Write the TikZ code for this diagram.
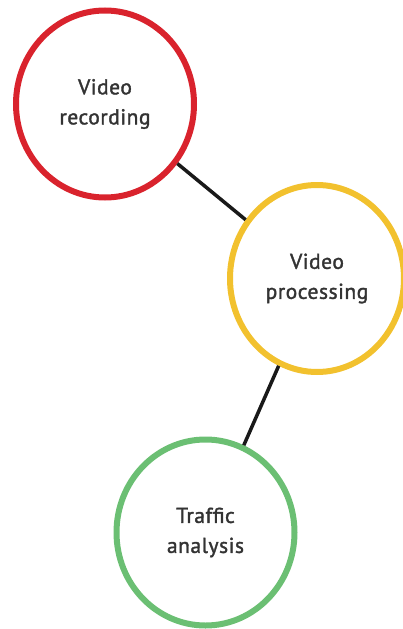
\documentclass[tikz,border=0pt]{standalone}
\usepackage{fontspec}
\newfontfamily\lblfont{PT Sans}[FakeBold=1.6, LetterSpace=2.5]
\usetikzlibrary{shapes.geometric}
\definecolor{cred}{HTML}{D9232D}
\definecolor{cyellow}{HTML}{F2C12E}
\definecolor{cgreen}{HTML}{6BBF73}
\definecolor{txtgray}{HTML}{333333}
\begin{document}
\begin{tikzpicture}[x=1pt,y=-1pt,
  stage/.style={ellipse, draw, line width=6pt, inner sep=0pt, outer sep=3pt,
    align=center, text=txtgray, font=\lblfont\fontsize{21.5}{30}\selectfont},
  link/.style={line width=3.5pt, draw=black!90}]
\useasboundingbox (0,0) rectangle (403,629);
\node[stage, draw=cred, minimum width=178pt, minimum height=187pt] (rec) at (105,104) {Video\\recording};
\node[stage, draw=cyellow, minimum width=174pt, minimum height=187pt] (proc) at (317,278.5) {Video\\processing};
\node[stage, draw=cgreen, minimum width=178pt, minimum height=186pt] (traf) at (205.5,532.5) {Traffic\\analysis};
\draw[link] (rec) -- (proc);
\draw[link] (proc) -- (traf);
\end{tikzpicture}
\end{document}
